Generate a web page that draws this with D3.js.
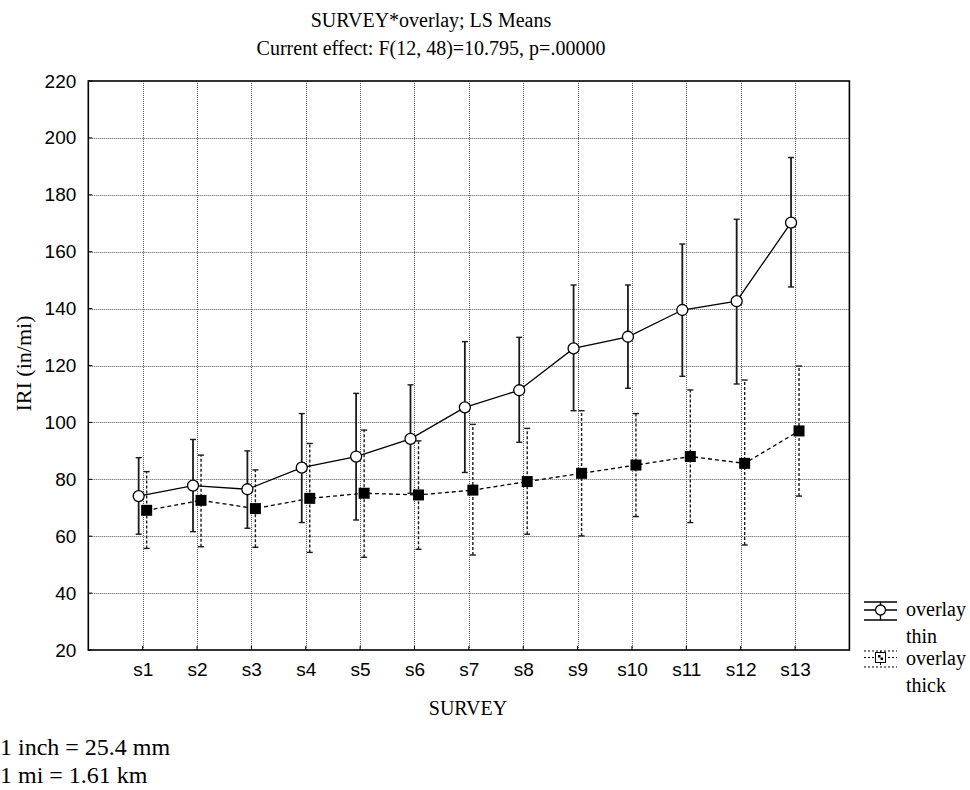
<!DOCTYPE html>
<html>
<head>
<meta charset="utf-8">
<script src="https://cdn.jsdelivr.net/npm/d3@7"></script>
<style>
  html, body { margin: 0; padding: 0; background: #fff; }
  svg { display: block; }
</style>
</head>
<body>
<svg id="chart" width="970" height="790"></svg>
<script>
// Survey categories and LS means with confidence limits (IRI, in/mi)
const categories = ["s1","s2","s3","s4","s5","s6","s7","s8","s9","s10","s11","s12","s13"];
const yTicks = [20, 40, 60, 80, 100, 120, 140, 160, 180, 200, 220];

const thinMean  = [74.1, 77.8, 76.5, 84.1, 88.0, 94.2, 105.3, 111.3, 126.0, 130.1, 139.5, 142.6, 170.2];
const thinUpper = [87.6, 94.0, 90.0, 103.1, 110.2, 113.2, 128.4, 129.9, 148.3, 148.3, 162.7, 171.4, 193.1];
const thinLower = [60.7, 61.6, 62.8, 64.8, 65.7, 75.1, 82.4, 93.0, 104.1, 112.0, 116.2, 113.5, 147.6];

const thickMean  = [69.1, 72.6, 69.7, 73.3, 75.1, 74.5, 76.2, 79.2, 82.1, 85.0, 88.0, 85.6, 97.0];
const thickUpper = [82.7, 88.5, 83.3, 92.6, 97.3, 93.5, 99.3, 97.9, 104.1, 103.1, 111.4, 114.9, 119.8];
const thickLower = [55.7, 56.3, 56.1, 54.3, 52.6, 55.4, 53.4, 60.7, 60.1, 66.9, 64.8, 56.9, 74.1];

const titleLines = ["SURVEY*overlay; LS Means", "Current effect: F(12, 48)=10.795, p=.00000"];
const legendLabels = [["overlay", "thin"], ["overlay", "thick"]];
const noteLines = ["1 inch = 25.4 mm", "1 mi = 1.61 km"];

const svg = d3.select("#chart");
const plot = { left: 88.3, right: 849.4, top: 81, bottom: 650 };

const x = d3.scalePoint().domain(categories).range([plot.left, plot.right]).padding(1);
const y = d3.scaleLinear().domain([20, 220]).range([plot.bottom, plot.top]);

const serif = "'Liberation Serif', 'Times New Roman', serif";
const sans = "'Liberation Sans', Arial, sans-serif";

// grid
const grid = svg.append("g").attr("stroke", "#555").attr("stroke-width", 1).attr("stroke-dasharray", "1,1");
grid.selectAll("line.h").data(yTicks.slice(1, -1)).join("line")
  .attr("x1", plot.left).attr("x2", plot.right)
  .attr("y1", d => Math.round(y(d)) + 0.5).attr("y2", d => Math.round(y(d)) + 0.5);
grid.selectAll("line.v").data(categories).join("line")
  .attr("y1", plot.top).attr("y2", plot.bottom)
  .attr("x1", d => Math.round(x(d)) + 0.5).attr("x2", d => Math.round(x(d)) + 0.5);

// axes
const yAxis = d3.axisLeft(y).tickValues(yTicks).tickSize(0).tickPadding(12);
const gy = svg.append("g").attr("transform", `translate(${plot.left},0)`).call(yAxis);
gy.select(".domain").remove();
gy.selectAll("text").attr("font-family", sans).attr("font-size", 19).attr("fill", "#000");

const xAxis = d3.axisBottom(x).tickSize(0).tickPadding(13);
const gx = svg.append("g").attr("transform", `translate(0,${plot.bottom})`).call(xAxis);
gx.select(".domain").remove();
gx.selectAll("text").attr("font-family", sans).attr("font-size", 19).attr("fill", "#000");

// small inner ticks
svg.append("g").attr("stroke", "#000").attr("stroke-width", 1)
  .selectAll("line").data(yTicks).join("line")
  .attr("x1", plot.left).attr("x2", plot.left + 4)
  .attr("y1", d => y(d)).attr("y2", d => y(d));
svg.append("g").attr("stroke", "#000").attr("stroke-width", 1)
  .selectAll("line").data(categories).join("line")
  .attr("x1", d => x(d)).attr("x2", d => x(d))
  .attr("y1", plot.bottom).attr("y2", plot.bottom - 4);

// frame
svg.append("rect")
  .attr("x", plot.left).attr("y", plot.top)
  .attr("width", plot.right - plot.left).attr("height", plot.bottom - plot.top)
  .attr("fill", "none").attr("stroke", "#000").attr("stroke-width", 1.6);

// series helpers
function errorBars(g, lo, hi, dx, dash, width) {
  const rows = categories.map((c, i) => ({ c, lo: lo[i], hi: hi[i] }));
  const eg = g.append("g").attr("stroke", "#1a1a1a").attr("stroke-width", width).attr("fill", "none");
  eg.selectAll("line.stem").data(rows).join("line")
    .attr("x1", d => x(d.c) + dx).attr("x2", d => x(d.c) + dx)
    .attr("y1", d => y(d.lo)).attr("y2", d => y(d.hi))
    .attr("stroke-dasharray", dash);
  const caps = rows.flatMap(d => [{ c: d.c, v: d.lo }, { c: d.c, v: d.hi }]);
  eg.selectAll("line.cap").data(caps).join("line")
    .attr("x1", d => x(d.c) + dx - 3).attr("x2", d => x(d.c) + dx + 3)
    .attr("y1", d => y(d.v)).attr("y2", d => y(d.v))
    .attr("stroke-width", 1.4);
}

const series = svg.append("g");

// thick overlay (dashed, filled squares)
errorBars(series, thickLower, thickUpper, 4, "3,2", 1.4);
series.append("path")
  .datum(thickMean)
  .attr("fill", "none").attr("stroke", "#000").attr("stroke-width", 1.3).attr("stroke-dasharray", "4,3")
  .attr("d", d3.line().x((d, i) => x(categories[i]) + 4).y(d => y(d)));
series.selectAll("rect.pt").data(thickMean).join("rect")
  .attr("x", (d, i) => x(categories[i]) + 4 - 5.5).attr("y", d => y(d) - 5.5)
  .attr("width", 11).attr("height", 11).attr("fill", "#000");

// thin overlay (solid, open circles)
errorBars(series, thinLower, thinUpper, -4, null, 1.8);
series.append("path")
  .datum(thinMean)
  .attr("fill", "none").attr("stroke", "#000").attr("stroke-width", 1.3)
  .attr("d", d3.line().x((d, i) => x(categories[i]) - 4).y(d => y(d)));
series.selectAll("circle.pt").data(thinMean).join("circle")
  .attr("cx", (d, i) => x(categories[i]) - 4).attr("cy", d => y(d))
  .attr("r", 5.5).attr("fill", "#fff").attr("stroke", "#000").attr("stroke-width", 1.3);

// titles
svg.append("g").selectAll("text").data(titleLines).join("text")
  .attr("x", 431).attr("y", (d, i) => 27 + i * 28)
  .attr("text-anchor", "middle").attr("font-family", serif).attr("font-size", 20)
  .text(d => d);

svg.append("text")
  .attr("x", 468).attr("y", 715)
  .attr("text-anchor", "middle").attr("font-family", serif).attr("font-size", 20)
  .text("SURVEY");

svg.append("text")
  .attr("transform", `translate(31,${(plot.top + plot.bottom) / 2 - 2}) rotate(-90)`)
  .attr("text-anchor", "middle").attr("font-family", serif).attr("font-size", 22)
  .text("IRI (in/mi)");

// legend
const lg = svg.append("g").attr("stroke", "#000").attr("fill", "none");
const lx0 = 864, lx1 = 897, lxc = 880.5;
// thin symbol
[602, 610, 620].forEach(v => lg.append("line").attr("x1", lx0).attr("x2", lx1).attr("y1", v).attr("y2", v).attr("stroke-width", 1.3));
lg.append("line").attr("x1", lxc).attr("x2", lxc).attr("y1", 602).attr("y2", 620).attr("stroke-width", 1.3);
lg.append("circle").attr("cx", lxc).attr("cy", 610).attr("r", 5).attr("fill", "#fff").attr("stroke-width", 1.3);
// thick symbol
[651, 657.5, 667].forEach(v => lg.append("line").attr("x1", lx0).attr("x2", lx1).attr("y1", v).attr("y2", v)
  .attr("stroke-width", 1).attr("stroke-dasharray", "2,2"));
lg.append("line").attr("x1", lxc).attr("x2", lxc).attr("y1", 651).attr("y2", 667).attr("stroke-width", 1).attr("stroke-dasharray", "2,2");
lg.append("rect").attr("x", lxc - 5).attr("y", 652.5).attr("width", 10).attr("height", 10)
  .attr("fill", "#fff").attr("stroke-width", 1);
lg.append("rect").attr("x", lxc - 2.5).attr("y", 655).attr("width", 2.5).attr("height", 2.5).attr("fill", "#000").attr("stroke", "none");
lg.append("rect").attr("x", lxc).attr("y", 657.5).attr("width", 2.5).attr("height", 2.5).attr("fill", "#000").attr("stroke", "none");

svg.append("g").selectAll("text").data(legendLabels.flat()).join("text")
  .attr("x", 906).attr("y", (d, i) => [616, 643, 665, 692][i])
  .attr("font-family", serif).attr("font-size", 20).text(d => d);

// unit notes
svg.append("g").selectAll("text").data(noteLines).join("text")
  .attr("x", 0).attr("y", (d, i) => 755 + i * 28)
  .attr("font-family", serif).attr("font-size", 24).text(d => d);
</script>
</body>
</html>
